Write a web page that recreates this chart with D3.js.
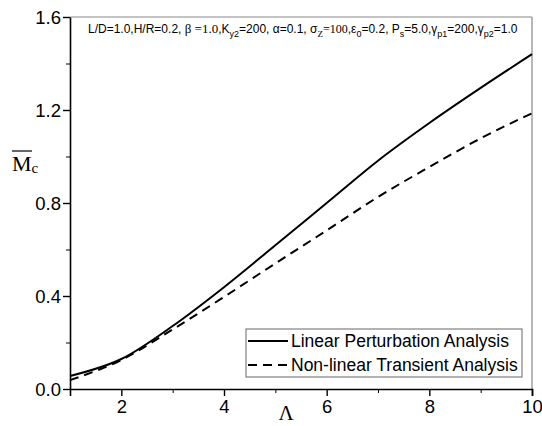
<!DOCTYPE html>
<html>
<head>
<meta charset="utf-8">
<script src="https://cdn.jsdelivr.net/npm/d3@7"></script>
<style>
  body { margin: 0; background: #fff; }
  svg { display: block; }
</style>
</head>
<body>
<div id="chart"></div>
<script>
// valeurs
const lambdaValues = [1, 2, 3, 4, 5, 6, 7, 8, 9, 10];
const linearValues = [0.056, 0.129, 0.271, 0.438, 0.618, 0.80, 0.982, 1.144, 1.295, 1.44];
const transientValues = [0.038, 0.125, 0.256, 0.396, 0.54, 0.682, 0.826, 0.955, 1.078, 1.186];
const seriesNames = ["Linear Perturbation Analysis", "Non-linear Transient Analysis"];
const xTicks = [2, 4, 6, 8, 10];
const yTicks = [0.0, 0.4, 0.8, 1.2, 1.6];

const W = 542, H = 426;
const margin = {top: 17, right: 10, bottom: 37, left: 70};
const width = W - margin.left - margin.right,
      height = H - margin.top - margin.bottom;

const svg = d3.select("#chart").append("svg")
    .attr("width", W)
    .attr("height", H);

const g = svg.append("g")
    .attr("transform", "translate(" + margin.left + "," + margin.top + ")");

const x = d3.scaleLinear().domain([1, 10]).range([0, width]);
const y = d3.scaleLinear().domain([0, 1.6]).range([height, 0]);

// cadre haut / droite
g.append("line").attr("x1", 0).attr("x2", width).attr("y1", 0).attr("y2", 0)
    .attr("stroke", "#888").attr("stroke-width", 1.2);
g.append("line").attr("x1", width).attr("x2", width).attr("y1", 0).attr("y2", height)
    .attr("stroke", "#888").attr("stroke-width", 1.2);

// petits traits
g.append("g")
    .attr("transform", "translate(0," + height + ")")
    .call(d3.axisBottom(x).tickValues([3, 5, 7, 9]).tickSize(4).tickFormat(""))
    .call(a => a.select(".domain").remove());
g.append("g")
    .call(d3.axisLeft(y).tickValues([0.2, 0.6, 1.0, 1.4]).tickSize(4).tickFormat(""))
    .call(a => a.select(".domain").remove());

// axes principaux
const axeX = g.append("g")
    .attr("transform", "translate(0," + height + ")")
    .call(d3.axisBottom(x).tickValues(xTicks).tickSize(7).tickPadding(3).tickFormat(d3.format("d")).tickSizeOuter(7));
const axeY = g.append("g")
    .call(d3.axisLeft(y).tickValues(yTicks).tickSize(7).tickPadding(2).tickFormat(d3.format(".1f")).tickSizeOuter(0));

[axeX, axeY].forEach(a => {
    a.selectAll("text")
        .attr("font-family", "Liberation Sans, Arial, sans-serif")
        .attr("font-size", 18.5)
        .attr("fill", "#000");
    a.selectAll("line").attr("stroke", "#000").attr("stroke-width", 1.4);
    a.select(".domain").attr("stroke", "#000").attr("stroke-width", 1.6);
});
axeX.selectAll("text").attr("dy", "0.75em");
axeY.selectAll("text").attr("dy", "0.35em");

// courbes
const line = d3.line()
    .x((d, i) => x(lambdaValues[i]))
    .y(d => y(d))
    .curve(d3.curveMonotoneX);

g.append("path")
    .datum(linearValues)
    .attr("d", line)
    .attr("fill", "none")
    .attr("stroke", "#000")
    .attr("stroke-width", 2);

g.append("path")
    .datum(transientValues)
    .attr("d", line)
    .attr("fill", "none")
    .attr("stroke", "#000")
    .attr("stroke-width", 2)
    .attr("stroke-dasharray", "9,6");

// légende
const leg = svg.append("g").attr("transform", "translate(246,329)");
leg.append("rect")
    .attr("width", 276).attr("height", 48)
    .attr("fill", "#fff").attr("stroke", "#666").attr("stroke-width", 1);
const dash = ["none", "9,6"];
seriesNames.forEach((s, i) => {
    const yy = 12 + i * 24;
    leg.append("line")
        .attr("x1", 2).attr("x2", 42).attr("y1", yy).attr("y2", yy)
        .attr("stroke", "#000").attr("stroke-width", 2)
        .attr("stroke-dasharray", dash[i]);
    leg.append("text")
        .attr("x", 45).attr("y", yy).attr("dy", "0.35em")
        .attr("font-family", "Liberation Sans, Arial, sans-serif")
        .attr("font-size", 17.5)
        .text(s);
});

// annotation des paramètres
const ann = svg.append("text")
    .attr("x", 88).attr("y", 33)
    .attr("font-family", "Liberation Sans, Arial, sans-serif")
    .attr("font-size", 12);
const serif = "Liberation Serif, Times New Roman, serif";
const parts = [
    {t: "L/D=1.0,H/R=0.2, "},
    {t: "β =1.0", f: serif, s: 13},
    {t: ",K"}, {t: "y2", sub: true}, {t: "=200, α=0.1, σ", back: true},
    {t: "Z", sub: true, f: serif}, {t: "=100", f: serif, back: true},
    {t: ",ε"}, {t: "0", sub: true}, {t: "=0.2, P", back: true},
    {t: "s", sub: true}, {t: "=5.0,γ", back: true},
    {t: "p1", sub: true}, {t: "=200,γ", back: true},
    {t: "p2", sub: true}, {t: "=1.0", back: true}
];
parts.forEach(p => {
    const ts = ann.append("tspan").text(p.t);
    if (p.f) ts.attr("font-family", p.f);
    if (p.s) ts.attr("font-size", p.s);
    if (p.sub) ts.attr("font-size", 9).attr("dy", 4);
    if (p.back) ts.attr("dy", -4);
});

// titre axe y
const yl = svg.append("text")
    .attr("x", 12).attr("y", 171)
    .attr("font-family", serif)
    .attr("font-size", 22);
yl.append("tspan").text("M");
yl.append("tspan").text("c").attr("font-size", 15).attr("dy", 2);
svg.append("line")
    .attr("x1", 12).attr("x2", 32).attr("y1", 151).attr("y2", 151)
    .attr("stroke", "#000").attr("stroke-width", 1.2);

// titre axe x
svg.append("text")
    .attr("x", 286).attr("y", 420)
    .attr("text-anchor", "middle")
    .attr("font-family", serif)
    .attr("font-size", 21)
    .text("Λ");
</script>
</body>
</html>
